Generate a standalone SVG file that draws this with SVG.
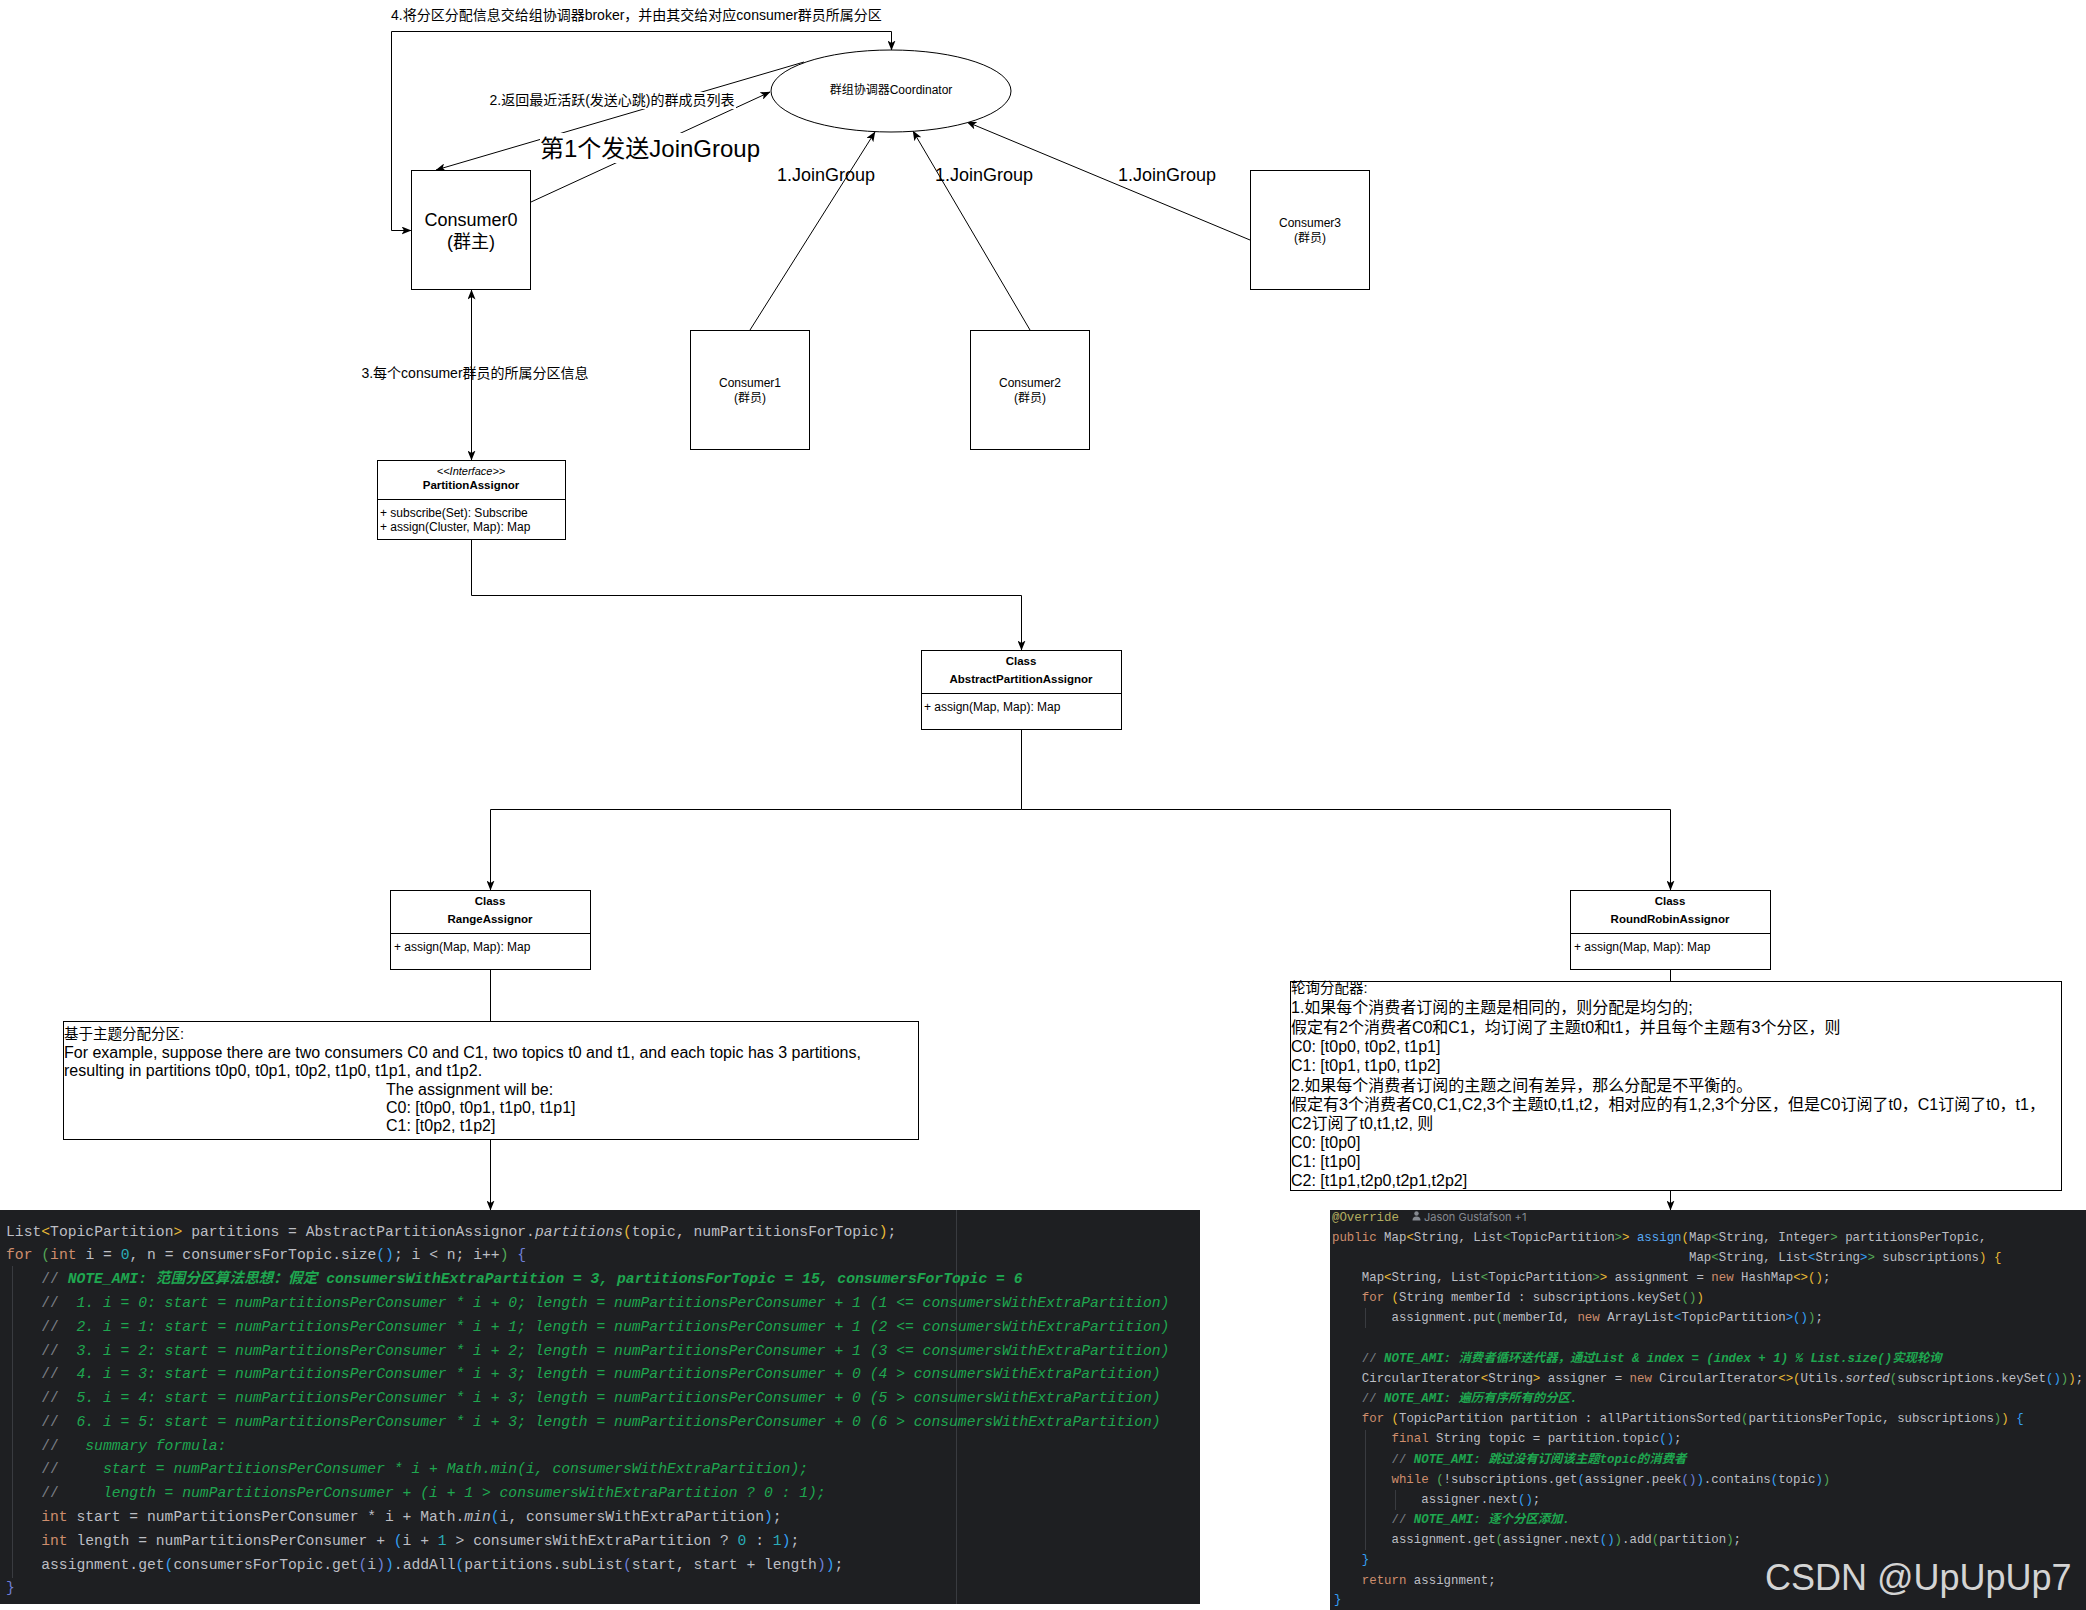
<svg xmlns="http://www.w3.org/2000/svg" width="2086" height="1610" viewBox="0 0 2086 1610">
<style>
.box{fill:#fff;stroke:#000;stroke-width:1}
.ln{fill:none;stroke:#000;stroke-width:1}
.t{font-family:"Liberation Sans","Noto Sans CJK SC",sans-serif;fill:#000;dominant-baseline:central}
.c{text-anchor:middle}
.bd{font-weight:bold}
.it{font-style:italic}
.code{font-family:"Liberation Mono","Noto Sans CJK SC",monospace;fill:#bcbec4;dominant-baseline:central;white-space:pre}
.L{font-size:14.7px}
.R{font-size:12.4px}
.kw{fill:#cf8e6d}
.num{fill:#2aacb8}
.cm{fill:#7a7e85}
.gr{fill:#1fa750;font-style:italic}
.fn{fill:#56a8f5}
.an{fill:#b3ae60}
.y{fill:#e8ba36}
.g{fill:#54a857}
.bl{fill:#359ff4}
.v{fill:#6f7fd8}
.guide{stroke:#393b40;stroke-width:1}
</style>
<defs>
<marker id="arr" viewBox="0 0 10 8" refX="9.5" refY="4" markerWidth="10" markerHeight="8" markerUnits="userSpaceOnUse" orient="auto-start-reverse">
<path d="M0,0 L10,4 L0,8 L2.5,4 Z" fill="#000"/>
</marker>
</defs>
<rect width="2086" height="1610" fill="#fff"/>

<g id="connectors">
<path class="ln" d="M411,230.5 H391.5 V31.5 H891.5 V50" marker-start="url(#arr)" marker-end="url(#arr)"/>
<path class="ln" d="M531,202 L770,92" marker-end="url(#arr)"/>
<path class="ln" d="M804,62 L436,170" marker-end="url(#arr)"/>
<path class="ln" d="M750,330 L875,132" marker-end="url(#arr)"/>
<path class="ln" d="M1030,330 L913,131" marker-end="url(#arr)"/>
<path class="ln" d="M1250,240 L967,122" marker-end="url(#arr)"/>
<path class="ln" d="M471.5,290 V460" marker-start="url(#arr)" marker-end="url(#arr)"/>
<path class="ln" d="M471.5,540 V595.5 H1021.5 V650" marker-end="url(#arr)"/>
<path class="ln" d="M1021.5,730 V809.5 H490.5 V890" marker-end="url(#arr)"/>
<path class="ln" d="M1021.5,809.5 H1670.5 V890" marker-end="url(#arr)"/>
<path class="ln" d="M490.5,970 V1021"/>
<path class="ln" d="M490.5,1140 V1210" marker-end="url(#arr)"/>
<path class="ln" d="M1670.5,970 V981"/>
<path class="ln" d="M1670.5,1191 V1210" marker-end="url(#arr)"/>
<text class="t" x="391" y="15" font-size="14">4.将分区分配信息交给组协调器broker，并由其交给对应consumer群员所属分区</text>
<rect x="489" y="92" width="247" height="17" fill="#fff"/>
<text class="t c" x="612" y="100" font-size="14">2.返回最近活跃(发送心跳)的群成员列表</text>
<rect x="540" y="133" width="220" height="30" fill="#fff"/>
<text class="t c" x="650" y="148" font-size="24">第1个发送JoinGroup</text>
<text class="t c" x="826" y="175" font-size="18">1.JoinGroup</text>
<text class="t c" x="984" y="175" font-size="18">1.JoinGroup</text>
<text class="t c" x="1167" y="175" font-size="18">1.JoinGroup</text>
<text class="t c" x="475" y="373" font-size="14">3.每个consumer群员的所属分区信息</text>
</g>

<g id="coordinator">
<ellipse class="box" cx="891" cy="91" rx="120" ry="41"/>
<text class="t c" x="891" y="90" font-size="12">群组协调器Coordinator</text>
</g>
<g id="consumer0">
<rect class="box" x="411.5" y="170.5" width="119" height="119"/>
<text class="t c" x="471" y="220" font-size="18">Consumer0</text>
<text class="t c" x="471" y="242" font-size="18">(群主)</text>
</g>
<g id="consumer1">
<rect class="box" x="690.5" y="330.5" width="119" height="119"/>
<text class="t c" x="750" y="383" font-size="12">Consumer1</text>
<text class="t c" x="750" y="398" font-size="12">(群员)</text>
</g>
<g id="consumer2">
<rect class="box" x="970.5" y="330.5" width="119" height="119"/>
<text class="t c" x="1030" y="383" font-size="12">Consumer2</text>
<text class="t c" x="1030" y="398" font-size="12">(群员)</text>
</g>
<g id="consumer3">
<rect class="box" x="1250.5" y="170.5" width="119" height="119"/>
<text class="t c" x="1310" y="223" font-size="12">Consumer3</text>
<text class="t c" x="1310" y="238" font-size="12">(群员)</text>
</g>
<g id="partitionAssignor">
<rect class="box" x="377.5" y="460.5" width="188" height="79"/>
<line class="ln" x1="377.5" y1="499.5" x2="565.5" y2="499.5"/>
<text class="t c it" x="471" y="471" font-size="11">&lt;&lt;Interface&gt;&gt;</text>
<text class="t c bd" x="471" y="485" font-size="11.5">PartitionAssignor</text>
<text class="t" x="380" y="513" font-size="12">+ subscribe(Set): Subscribe</text>
<text class="t" x="380" y="527" font-size="12">+ assign(Cluster, Map): Map</text>
</g>
<g id="abstractPartitionAssignor">
<rect class="box" x="921.5" y="650.5" width="200" height="79"/>
<line class="ln" x1="921.5" y1="693.5" x2="1121.5" y2="693.5"/>
<text class="t c bd" x="1021" y="661" font-size="11.5">Class</text>
<text class="t c bd" x="1021" y="679" font-size="11.5">AbstractPartitionAssignor</text>
<text class="t" x="924" y="707" font-size="12">+ assign(Map, Map): Map</text>
</g>
<g id="rangeAssignor">
<rect class="box" x="390.5" y="890.5" width="200" height="79"/>
<line class="ln" x1="390.5" y1="933.5" x2="590.5" y2="933.5"/>
<text class="t c bd" x="490" y="901" font-size="11.5">Class</text>
<text class="t c bd" x="490" y="919" font-size="11.5">RangeAssignor</text>
<text class="t" x="394" y="947" font-size="12">+ assign(Map, Map): Map</text>
</g>
<g id="roundRobinAssignor">
<rect class="box" x="1570.5" y="890.5" width="200" height="79"/>
<line class="ln" x1="1570.5" y1="933.5" x2="1770.5" y2="933.5"/>
<text class="t c bd" x="1670" y="901" font-size="11.5">Class</text>
<text class="t c bd" x="1670" y="919" font-size="11.5">RoundRobinAssignor</text>
<text class="t" x="1574" y="947" font-size="12">+ assign(Map, Map): Map</text>
</g>
<g id="rangeNote">
<rect class="box" x="63.5" y="1021.5" width="855" height="118"/>
<text class="t" x="64" y="1034" font-size="14.5">基于主题分配分区:</text>
<text class="t" x="64" y="1052" font-size="16">For example, suppose there are two consumers C0 and C1, two topics t0 and t1, and each topic has 3 partitions,</text>
<text class="t" x="64" y="1070" font-size="16">resulting in partitions t0p0, t0p1, t0p2, t1p0, t1p1, and t1p2.</text>
<text class="t" x="386" y="1089" font-size="16">The assignment will be:</text>
<text class="t" x="386" y="1107" font-size="16">C0: [t0p0, t0p1, t1p0, t1p1]</text>
<text class="t" x="386" y="1125" font-size="16">C1: [t0p2, t1p2]</text>
</g>
<g id="roundRobinNote">
<rect class="box" x="1290.5" y="981.5" width="771" height="209"/>
<text class="t" x="1291" y="988" font-size="14.5">轮询分配器:</text>
<text class="t" x="1291" y="1007" font-size="16">1.如果每个消费者订阅的主题是相同的，则分配是均匀的;</text>
<text class="t" x="1291" y="1027" font-size="16">假定有2个消费者C0和C1，均订阅了主题t0和t1，并且每个主题有3个分区，则</text>
<text class="t" x="1291" y="1046" font-size="16">C0: [t0p0, t0p2, t1p1]</text>
<text class="t" x="1291" y="1065" font-size="16">C1: [t0p1, t1p0, t1p2]</text>
<text class="t" x="1291" y="1085" font-size="16">2.如果每个消费者订阅的主题之间有差异，那么分配是不平衡的。</text>
<text class="t" x="1291" y="1104" font-size="16">假定有3个消费者C0,C1,C2,3个主题t0,t1,t2，相对应的有1,2,3个分区，但是C0订阅了t0，C1订阅了t0，t1，</text>
<text class="t" x="1291" y="1123" font-size="16">C2订阅了t0,t1,t2, 则</text>
<text class="t" x="1291" y="1142" font-size="16">C0: [t0p0]</text>
<text class="t" x="1291" y="1161" font-size="16">C1: [t1p0]</text>
<text class="t" x="1291" y="1180" font-size="16">C2: [t1p1,t2p0,t2p1,t2p2]</text>
</g>

<g id="rangeCode">
<rect x="0" y="1210" width="1200" height="394" fill="#1e1f22"/>
<line class="guide" x1="956.5" y1="1210" x2="956.5" y2="1604"/>
<line class="guide" x1="12.5" y1="1266" x2="12.5" y2="1578"/>
<text class="code L" x="6" y="1232" xml:space="preserve">List<tspan class="y">&lt;</tspan>TopicPartition<tspan class="y">&gt;</tspan> partitions = AbstractPartitionAssignor.<tspan class="it">partitions</tspan><tspan class="y">(</tspan>topic, numPartitionsForTopic<tspan class="y">)</tspan>;</text>
<text class="code L" x="6" y="1255" xml:space="preserve"><tspan class="kw">for</tspan> <tspan class="g">(</tspan><tspan class="kw">int</tspan> i = <tspan class="num">0</tspan>, n = consumersForTopic.size<tspan class="bl">()</tspan>; i &lt; n; i++<tspan class="g">)</tspan> <tspan class="v">{</tspan></text>
<text class="code L" x="41.2" y="1279" xml:space="preserve"><tspan class="cm">// </tspan><tspan class="gr" font-weight="bold">NOTE_AMI: 范围分区算法思想：假定 consumersWithExtraPartition = 3, partitionsForTopic = 15, consumersForTopic = 6</tspan></text>
<text class="code L" x="41.2" y="1303" xml:space="preserve"><tspan class="cm">//</tspan><tspan class="gr">  1. i = 0: start = numPartitionsPerConsumer * i + 0; length = numPartitionsPerConsumer + 1 (1 &lt;= consumersWithExtraPartition)</tspan></text>
<text class="code L" x="41.2" y="1327" xml:space="preserve"><tspan class="cm">//</tspan><tspan class="gr">  2. i = 1: start = numPartitionsPerConsumer * i + 1; length = numPartitionsPerConsumer + 1 (2 &lt;= consumersWithExtraPartition)</tspan></text>
<text class="code L" x="41.2" y="1351" xml:space="preserve"><tspan class="cm">//</tspan><tspan class="gr">  3. i = 2: start = numPartitionsPerConsumer * i + 2; length = numPartitionsPerConsumer + 1 (3 &lt;= consumersWithExtraPartition)</tspan></text>
<text class="code L" x="41.2" y="1374" xml:space="preserve"><tspan class="cm">//</tspan><tspan class="gr">  4. i = 3: start = numPartitionsPerConsumer * i + 3; length = numPartitionsPerConsumer + 0 (4 &gt; consumersWithExtraPartition)</tspan></text>
<text class="code L" x="41.2" y="1398" xml:space="preserve"><tspan class="cm">//</tspan><tspan class="gr">  5. i = 4: start = numPartitionsPerConsumer * i + 3; length = numPartitionsPerConsumer + 0 (5 &gt; consumersWithExtraPartition)</tspan></text>
<text class="code L" x="41.2" y="1422" xml:space="preserve"><tspan class="cm">//</tspan><tspan class="gr">  6. i = 5: start = numPartitionsPerConsumer * i + 3; length = numPartitionsPerConsumer + 0 (6 &gt; consumersWithExtraPartition)</tspan></text>
<text class="code L" x="41.2" y="1446" xml:space="preserve"><tspan class="cm">//</tspan><tspan class="gr">   summary formula:</tspan></text>
<text class="code L" x="41.2" y="1469" xml:space="preserve"><tspan class="cm">//</tspan><tspan class="gr">     start = numPartitionsPerConsumer * i + Math.min(i, consumersWithExtraPartition);</tspan></text>
<text class="code L" x="41.2" y="1493" xml:space="preserve"><tspan class="cm">//</tspan><tspan class="gr">     length = numPartitionsPerConsumer + (i + 1 &gt; consumersWithExtraPartition ? 0 : 1);</tspan></text>
<text class="code L" x="41.2" y="1517" xml:space="preserve"><tspan class="kw">int</tspan> start = numPartitionsPerConsumer * i + Math.<tspan class="it">min</tspan><tspan class="bl">(</tspan>i, consumersWithExtraPartition<tspan class="bl">)</tspan>;</text>
<text class="code L" x="41.2" y="1541" xml:space="preserve"><tspan class="kw">int</tspan> length = numPartitionsPerConsumer + <tspan class="bl">(</tspan>i + <tspan class="num">1</tspan> &gt; consumersWithExtraPartition ? <tspan class="num">0</tspan> : <tspan class="num">1</tspan><tspan class="bl">)</tspan>;</text>
<text class="code L" x="41.2" y="1565" xml:space="preserve">assignment.get<tspan class="bl">(</tspan>consumersForTopic.get<tspan class="v">(</tspan>i<tspan class="v">)</tspan><tspan class="bl">)</tspan>.addAll<tspan class="bl">(</tspan>partitions.subList<tspan class="v">(</tspan>start, start + length<tspan class="v">)</tspan><tspan class="bl">)</tspan>;</text>
<text class="code L" x="6" y="1588" xml:space="preserve"><tspan class="v">}</tspan></text>
</g>

<g id="roundRobinCode">
<rect x="1330" y="1210" width="756" height="400" fill="#1e1f22"/>
<line class="guide" x1="1365.5" y1="1308" x2="1365.5" y2="1328"/>
<line class="guide" x1="1365.5" y1="1430" x2="1365.5" y2="1550"/>
<line class="guide" x1="1395.5" y1="1490" x2="1395.5" y2="1510"/>
<text class="code R" x="1332" y="1218" xml:space="preserve"><tspan class="an">@Override</tspan></text>
<circle cx="1416.5" cy="1213.5" r="2.2" fill="#868a91"/>
<path d="M1412.5,1220.5 Q1412.5,1216.5 1416.5,1216.5 Q1420.5,1216.5 1420.5,1220.5 Z" fill="#868a91"/>
<text x="1424" y="1217" font-size="11" fill="#868a91" font-family="Inter,'Liberation Sans',sans-serif" dominant-baseline="central">Jason Gustafson +1</text>
<text class="code R" x="1332" y="1238" xml:space="preserve"><tspan class="kw">public</tspan> Map<tspan class="y">&lt;</tspan>String, List<tspan class="g">&lt;</tspan>TopicPartition<tspan class="g">&gt;</tspan><tspan class="y">&gt;</tspan> <tspan class="fn">assign</tspan><tspan class="y">(</tspan>Map<tspan class="g">&lt;</tspan>String, Integer<tspan class="g">&gt;</tspan> partitionsPerTopic,</text>
<text class="code R" x="1689" y="1258" xml:space="preserve">Map<tspan class="g">&lt;</tspan>String, List<tspan class="bl">&lt;</tspan>String<tspan class="bl">&gt;</tspan><tspan class="g">&gt;</tspan> subscriptions<tspan class="y">)</tspan> <tspan class="y">{</tspan></text>
<text class="code R" x="1361.8" y="1278" xml:space="preserve">Map<tspan class="y">&lt;</tspan>String, List<tspan class="g">&lt;</tspan>TopicPartition<tspan class="g">&gt;</tspan><tspan class="y">&gt;</tspan> assignment = <tspan class="kw">new</tspan> HashMap<tspan class="y">&lt;&gt;()</tspan>;</text>
<text class="code R" x="1361.8" y="1298" xml:space="preserve"><tspan class="kw">for</tspan> <tspan class="y">(</tspan>String memberId : subscriptions.keySet<tspan class="g">()</tspan><tspan class="y">)</tspan></text>
<text class="code R" x="1391.5" y="1318" xml:space="preserve">assignment.put<tspan class="g">(</tspan>memberId, <tspan class="kw">new</tspan> ArrayList<tspan class="bl">&lt;</tspan>TopicPartition<tspan class="bl">&gt;()</tspan><tspan class="g">)</tspan>;</text>
<text class="code R" x="1361.8" y="1359" xml:space="preserve"><tspan class="cm">// </tspan><tspan class="gr" font-weight="bold">NOTE_AMI: 消费者循环迭代器，通过List &amp; index = (index + 1) % List.size()实现轮询</tspan></text>
<text class="code R" x="1361.8" y="1379" xml:space="preserve">CircularIterator<tspan class="y">&lt;</tspan>String<tspan class="y">&gt;</tspan> assigner = <tspan class="kw">new</tspan> CircularIterator<tspan class="y">&lt;&gt;(</tspan>Utils.<tspan class="it">sorted</tspan><tspan class="g">(</tspan>subscriptions.keySet<tspan class="bl">()</tspan><tspan class="g">)</tspan><tspan class="y">)</tspan>;</text>
<text class="code R" x="1361.8" y="1399" xml:space="preserve"><tspan class="cm">// </tspan><tspan class="gr" font-weight="bold">NOTE_AMI: 遍历有序所有的分区.</tspan></text>
<text class="code R" x="1361.8" y="1419" xml:space="preserve"><tspan class="kw">for</tspan> <tspan class="y">(</tspan>TopicPartition partition : allPartitionsSorted<tspan class="g">(</tspan>partitionsPerTopic, subscriptions<tspan class="g">)</tspan><tspan class="y">)</tspan> <tspan class="bl">{</tspan></text>
<text class="code R" x="1391.5" y="1439" xml:space="preserve"><tspan class="kw">final</tspan> String topic = partition.topic<tspan class="bl">()</tspan>;</text>
<text class="code R" x="1391.5" y="1460" xml:space="preserve"><tspan class="cm">// </tspan><tspan class="gr" font-weight="bold">NOTE_AMI: 跳过没有订阅该主题topic的消费者</tspan></text>
<text class="code R" x="1391.5" y="1480" xml:space="preserve"><tspan class="kw">while</tspan> <tspan class="g">(</tspan>!subscriptions.get<tspan class="bl">(</tspan>assigner.peek<tspan class="v">()</tspan><tspan class="bl">)</tspan>.contains<tspan class="bl">(</tspan>topic<tspan class="bl">)</tspan><tspan class="g">)</tspan></text>
<text class="code R" x="1421.3" y="1500" xml:space="preserve">assigner.next<tspan class="bl">()</tspan>;</text>
<text class="code R" x="1391.5" y="1520" xml:space="preserve"><tspan class="cm">// </tspan><tspan class="gr" font-weight="bold">NOTE_AMI: 逐个分区添加.</tspan></text>
<text class="code R" x="1391.5" y="1540" xml:space="preserve">assignment.get<tspan class="g">(</tspan>assigner.next<tspan class="bl">()</tspan><tspan class="g">)</tspan>.add<tspan class="g">(</tspan>partition<tspan class="g">)</tspan>;</text>
<text class="code R" x="1361.8" y="1560" xml:space="preserve"><tspan class="bl">}</tspan></text>
<text class="code R" x="1361.8" y="1581" xml:space="preserve"><tspan class="kw">return</tspan> assignment;</text>
<text class="code R" x="1334" y="1600" xml:space="preserve"><tspan class="bl">}</tspan></text>
<text x="1765" y="1590" font-size="36" fill="#d4d4d4" font-family="'Liberation Sans',sans-serif">CSDN @UpUpUp7</text>
</g>
</svg>
